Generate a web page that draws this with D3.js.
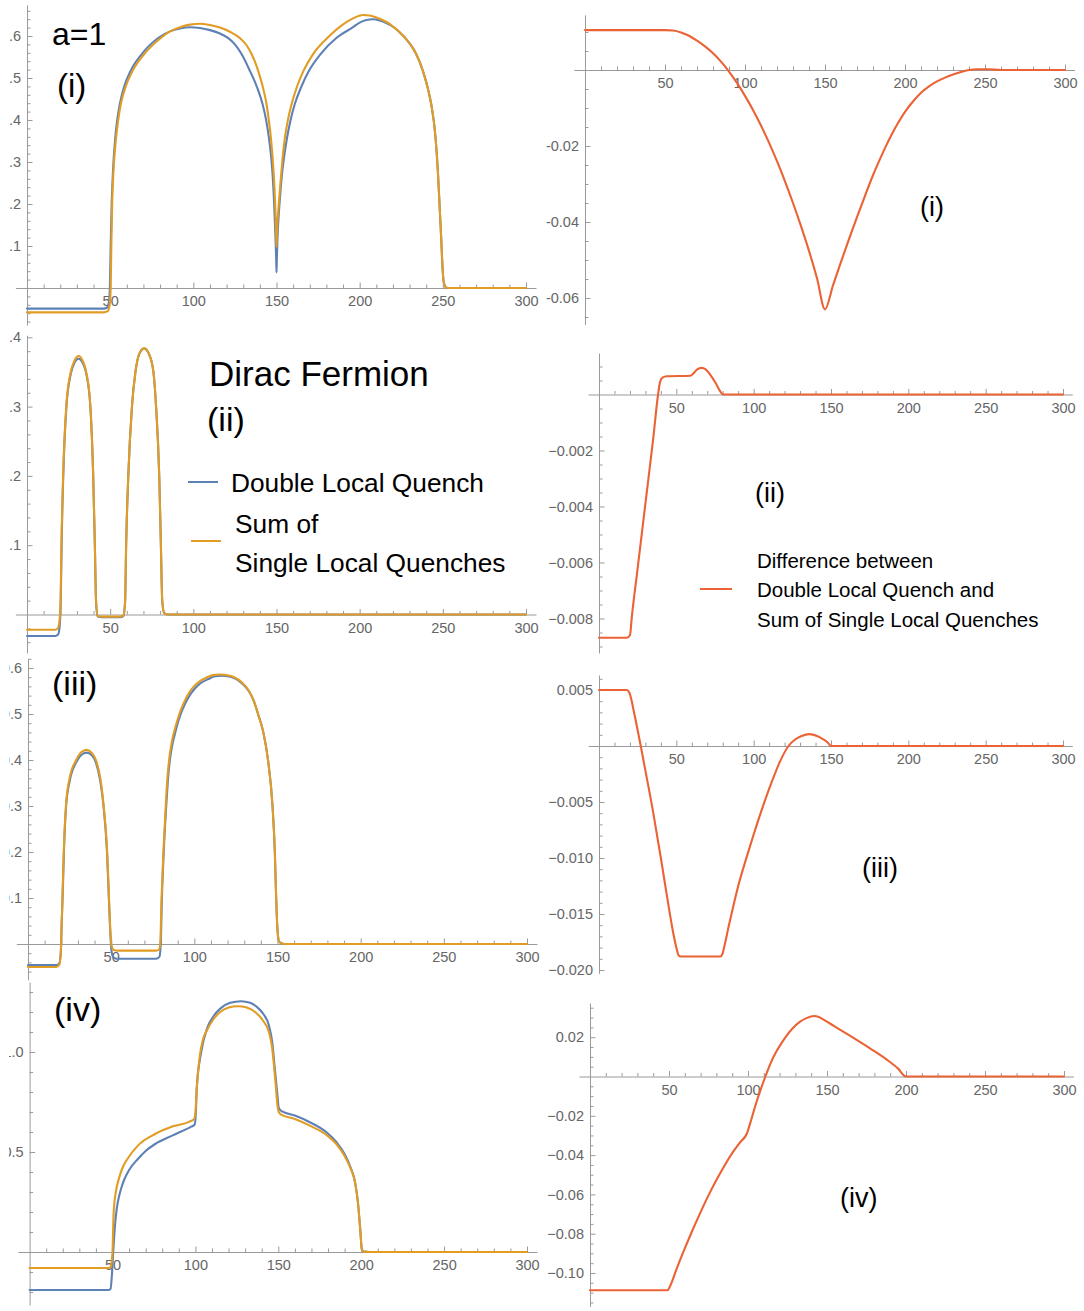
<!DOCTYPE html>
<html><head><meta charset="utf-8">
<script src="https://cdn.jsdelivr.net/npm/d3@7"></script>
<style>
body{margin:0;background:#fff}
svg{display:block}
text{font-family:"Liberation Sans",Arial,Helvetica,sans-serif}
</style>
</head><body>
<svg id="chart" width="1084" height="1311"></svg>
<script>
// ---------------- DATA ----------------
const X_TICKS = [50, 100, 150, 200, 250, 300];

// (i)
const doubleI = [[0,-0.049],[46,-0.049],[48,-0.047],[49.2,-0.035],[49.8,0],[50.3,0.1],[50.9,0.2],[51.7,0.279],[53.1,0.359],[54.2,0.399],[55.8,0.438],[58.3,0.478],[62.3,0.517],[69,0.557],[79.5,0.597],[86,0.611],[92,0.618],[98,0.621],[104,0.619],[110,0.614],[116,0.606],[121,0.595],[125,0.58],[129,0.557],[134,0.517],[138.3,0.478],[141.6,0.438],[143.8,0.399],[145.4,0.359],[146.6,0.319],[147.5,0.279],[148.6,0.2],[149.4,0.12],[149.8,0.07],[150,0.037],[150.2,0.07],[150.6,0.12],[151.8,0.2],[153.5,0.279],[154.8,0.319],[156.4,0.359],[158.4,0.399],[161,0.438],[164.8,0.478],[169.5,0.517],[176.5,0.557],[186.5,0.597],[196,0.621],[200,0.632],[204,0.638],[208,0.64],[212,0.637],[216,0.631],[220,0.622],[224,0.609],[227,0.597],[234,0.557],[238,0.517],[241,0.475],[243,0.438],[245.6,0.359],[247,0.279],[248,0.2],[249,0.12],[249.8,0.05],[250.5,0.015],[251.5,0.003],[253,0],[300,0]];
const sumI = [[0,-0.058],[46,-0.058],[48.5,-0.055],[49.7,-0.04],[50.3,0],[50.7,0.1],[51.2,0.2],[52,0.279],[53.6,0.359],[54.8,0.399],[56.4,0.438],[59.2,0.478],[63.5,0.517],[70.5,0.557],[81,0.597],[86,0.611],[92,0.621],[98,0.627],[104,0.629],[110,0.626],[116,0.62],[122,0.61],[128,0.595],[132,0.578],[135,0.557],[139,0.517],[142,0.475],[144,0.438],[145.4,0.399],[146.6,0.359],[148.2,0.279],[149.2,0.2],[149.7,0.14],[150,0.097],[150.4,0.14],[151.4,0.2],[153,0.279],[153.9,0.319],[155.1,0.359],[156.8,0.399],[159.1,0.438],[162.2,0.478],[166.2,0.517],[172,0.557],[181,0.597],[190.5,0.629],[196,0.642],[202,0.65],[206,0.649],[210,0.644],[218,0.629],[227,0.597],[234,0.557],[238,0.517],[241,0.475],[243,0.438],[245.6,0.359],[247,0.279],[248,0.2],[249,0.12],[249.8,0.05],[250.5,0.015],[251.5,0.003],[253,0],[300,0]];
const diffI = [[0,0.0105],[50,0.0105],[55,0.0104],[60,0.0099],[65,0.009],[70,0.0077],[75,0.0062],[80,0.0044],[85,0.0022],[90,-0.0004],[95,-0.0034],[100,-0.0068],[105,-0.0105],[110,-0.0146],[115,-0.0191],[120,-0.024],[125,-0.0293],[130,-0.035],[135,-0.0411],[140,-0.0476],[145,-0.0548],[150,-0.063],[155,-0.0567],[160,-0.0505],[165,-0.0445],[170,-0.0387],[175,-0.0331],[180,-0.0277],[184,-0.0238],[188,-0.0201],[192,-0.0167],[196,-0.0137],[200,-0.011],[205,-0.0083],[210,-0.006],[215,-0.0043],[220,-0.003],[225,-0.002],[230,-0.0012],[235,-0.0005],[240,0],[245,0.0002],[252,0.0002],[260,0],[300,0]];

// (ii)
const doubleII = [[0,-0.031],[17,-0.031],[18.7,-0.029],[19.7,-0.015],[20.3,0.02],[20.8,0.1],[21.8,0.2],[23.7,0.3],[26.4,0.348],[28.5,0.363],[31,0.369],[33.5,0.363],[35.6,0.348],[38.1,0.3],[39.8,0.2],[40.8,0.1],[41.5,0.02],[42.5,-0.003],[45,-0.004],[56,-0.004],[58,-0.002],[59,0.02],[59.6,0.1],[60.9,0.2],[63.1,0.3],[65.2,0.35],[67.5,0.376],[70.4,0.384],[73.3,0.376],[76,0.35],[77.6,0.3],[79.5,0.2],[80.5,0.1],[81.3,0.02],[82.5,0.002],[85,0],[300,0]];
const sumII = [[0,-0.022],[17,-0.022],[18.5,-0.02],[19.5,-0.01],[20.2,0.02],[20.7,0.1],[21.7,0.2],[23.6,0.3],[26.3,0.35],[28.5,0.366],[31,0.373],[33.5,0.366],[35.6,0.35],[38.1,0.3],[39.8,0.2],[40.8,0.1],[41.5,0.02],[42.5,-0.002],[45,-0.003],[56,-0.003],[58,-0.001],[59,0.02],[59.6,0.1],[60.9,0.2],[63.1,0.3],[65.2,0.35],[67.5,0.376],[70.4,0.384],[73.3,0.376],[76,0.35],[77.6,0.3],[79.5,0.2],[80.5,0.1],[81.3,0.02],[82.5,0.002],[85,0],[300,0]];
const diffII = [[0,-0.00869],[18,-0.00869],[20,-0.0086],[21.3,-0.0079],[25,-0.0062],[30,-0.0039],[35,-0.0016],[38.2,0],[39.5,0.00045],[41,0.0006],[44,0.00065],[59,0.00067],[61,0.00075],[63.5,0.0009],[66.3,0.00095],[69,0.0009],[72,0.0007],[75.5,0.0004],[78.5,0.0001],[80.4,0],[300,0]];

// (iii)
const doubleIII = [[0,-0.046],[17,-0.046],[18.8,-0.042],[19.7,-0.02],[20.3,0.05],[20.8,0.1],[21.6,0.2],[22.9,0.3],[25.1,0.355],[29,0.395],[32,0.411],[35.2,0.416],[38.5,0.41],[40.8,0.395],[43.4,0.355],[45.4,0.3],[47.5,0.2],[48.6,0.1],[49.4,0.03],[50.2,-0.015],[51.3,-0.029],[53,-0.032],[77,-0.032],[79,-0.028],[79.8,0],[80.5,0.1],[81.6,0.2],[83.1,0.3],[84.1,0.355],[85.3,0.4],[86.9,0.435],[88.9,0.465],[91.8,0.5],[94.8,0.525],[98,0.545],[103,0.565],[108.5,0.576],[112.5,0.582],[116.5,0.583],[120,0.582],[124,0.578],[128.5,0.567],[132.9,0.549],[135.8,0.528],[138.3,0.5],[141.5,0.46],[144.3,0.4],[147,0.3],[148.4,0.2],[149.2,0.1],[150,0.03],[151,0.005],[154,0],[300,0]];
const sumIII = [[0,-0.05],[17,-0.05],[18.8,-0.045],[19.7,-0.02],[20.3,0.05],[20.7,0.1],[21.5,0.2],[22.8,0.3],[25,0.36],[29,0.4],[32,0.417],[35.2,0.422],[38.5,0.415],[40.8,0.4],[43.5,0.36],[45.5,0.3],[47.6,0.2],[48.7,0.1],[49.5,0.03],[50.3,-0.005],[51.5,-0.013],[54,-0.0145],[77,-0.0145],[78.8,-0.012],[79.5,0],[80.3,0.1],[81.4,0.2],[82.8,0.3],[83.8,0.36],[85,0.405],[86.5,0.44],[88.5,0.47],[91,0.5],[94,0.527],[97.3,0.549],[102,0.568],[107.7,0.58],[112,0.585],[116,0.586],[120,0.584],[124,0.58],[128.5,0.569],[132.9,0.55],[135.8,0.528],[138.3,0.5],[141.5,0.46],[144.3,0.4],[147,0.3],[148.4,0.2],[149.2,0.1],[150,0.03],[151,0.005],[154,0],[300,0]];
const diffIII = [[0,0.005],[18,0.005],[19.5,0.0048],[21,0.0041],[22.5,0.0031],[24,0.0021],[27,0],[30,-0.0022],[35,-0.0059],[40,-0.01],[45,-0.0143],[48,-0.0167],[50,-0.018],[51.5,-0.0187],[53,-0.0188],[78.5,-0.0188],[80,-0.0185],[81,-0.0179],[82,-0.0173],[84,-0.016],[86,-0.0148],[90,-0.0125],[95.5,-0.0099],[100,-0.0079],[106.7,-0.0051],[112,-0.0031],[117,-0.0014],[122.5,0],[127,0.0006],[131,0.0009],[136,0.00106],[141,0.0009],[145,0.0006],[148,0.0003],[150,0],[300,0]];

// (iv)
const doubleIV = [[0,-0.19],[47.5,-0.19],[48.8,-0.185],[49.6,-0.12],[50.3,-0.02],[50.8,0.05],[51.8,0.16],[52.8,0.23],[54,0.28],[55.5,0.325],[57,0.36],[60,0.41],[65.3,0.465],[70,0.505],[75.7,0.54],[86,0.582],[97.5,0.627],[99.5,0.636],[100.3,0.7],[100.8,0.816],[103.5,1.0],[107,1.117],[111,1.18],[115,1.217],[121,1.246],[127.6,1.254],[133,1.246],[137,1.226],[141,1.19],[144.3,1.134],[146.5,1.04],[147.7,0.933],[149.3,0.8],[150.3,0.72],[151.5,0.708],[152.6,0.702],[160,0.682],[169,0.649],[179.6,0.595],[185,0.55],[190,0.49],[193.5,0.425],[196.3,0.348],[198,0.25],[199.4,0.114],[200.4,0.013],[201.5,0.002],[205,0],[300,0]];
const sumIV = [[0,-0.08],[47,-0.08],[48.7,-0.077],[49.5,-0.05],[50,0],[50.7,0.197],[52,0.3],[53.8,0.365],[56,0.42],[59,0.465],[65.3,0.532],[75.7,0.59],[86,0.627],[96.5,0.652],[99.3,0.666],[100.2,0.72],[100.8,0.816],[102.7,0.983],[104.5,1.06],[107,1.109],[111,1.165],[115,1.2],[120,1.222],[125.6,1.229],[131,1.222],[136,1.2],[140.5,1.16],[144.3,1.1],[146.3,1.02],[147.4,0.933],[148.8,0.8],[149.5,0.732],[150.3,0.7],[151.5,0.688],[160,0.665],[169,0.632],[179.6,0.582],[185,0.54],[190,0.48],[193.5,0.42],[196.3,0.348],[198,0.25],[199.4,0.114],[200.4,0.013],[201.5,0.002],[205,0],[300,0]];
const diffIV = [[0,-0.1088],[49,-0.1088],[50.5,-0.107],[55,-0.0975],[60,-0.0875],[65,-0.078],[70,-0.069],[75,-0.0605],[80,-0.0527],[85,-0.0455],[90,-0.039],[95,-0.0335],[99.3,-0.029],[101.5,-0.0235],[104.4,-0.0155],[108,-0.0067],[111,0],[114,0.0062],[117.6,0.0122],[121,0.0167],[124,0.0203],[128,0.0243],[133,0.0279],[137,0.0297],[141.8,0.0308],[144.5,0.0304],[147.3,0.0292],[155,0.0254],[166,0.02],[177,0.0144],[188,0.0085],[195,0.004],[200,0],[300,0]];

// y tick labels
const yTicksL1 = [0.1,0.2,0.3,0.4,0.5,0.6];
const yTicksR1 = [-0.06,-0.04,-0.02];
const yTicksL2 = [0.1,0.2,0.3,0.4];
const yTicksR2 = [-0.008,-0.006,-0.004,-0.002];
const yTicksL3 = [0.1,0.2,0.3,0.4,0.5,0.6];
const yTicksR3 = [-0.02,-0.015,-0.01,-0.005,0.005];
const yTicksL4 = [0.5,1.0];
const yTicksR4 = [-0.1,-0.08,-0.06,-0.04,-0.02,0.02];

const seriesNames = ["Double Local Quench", "Sum of", "Single Local Quenches"];
const diffLegend = ["Difference between", "Double Local Quench and", "Sum of Single Local Quenches"];

// ---------------- STYLE / LAYOUT ----------------
const BLUE = "#5E81B5", ORANGE = "#E19C24", RED = "#EB6235";
const AXIS = "#9a9a9a", LABEL = "#666";
const hyphenFmt = d3.formatLocale({decimal:".",thousands:",",grouping:[3],currency:["",""],minus:"-"}).format(".2f");

const panels = [
  {px:[27,526],  y0:288,   k:420,   ext:[-0.088,0.674],  minor:0.02,   ticks:yTicksL1, fmt:d3.format(".1f"), series:[[doubleI,BLUE],[sumI,ORANGE]]},
  {px:[585,1065],y0:70,    k:3800,  ext:[-0.067,0.0145], minor:0.005,  ticks:yTicksR1, fmt:hyphenFmt,        series:[[diffI,RED]]},
  {px:[27,526],  y0:614.5, k:693,   ext:[-0.0556,0.403], minor:0.02,   ticks:yTicksL2, fmt:d3.format(".1f"), series:[[doubleII,BLUE],[sumII,ORANGE]]},
  {px:[599,1063],y0:394.5, k:28000, ext:[-0.00923,0.00148],minor:0.0005,ticks:yTicksR2, fmt:d3.format(".3f"), series:[[diffII,RED]]},
  {px:[28,527],  y0:944,   k:460,   ext:[-0.078,0.62],   minor:0.02,   ticks:yTicksL3, fmt:d3.format(".1f"), series:[[doubleIII,BLUE],[sumIII,ORANGE]]},
  {px:[599,1063],y0:746,   k:11200, ext:[-0.0203,0.00634],minor:0.001, ticks:yTicksR3, fmt:d3.format(".3f"), series:[[diffIII,RED]]},
  {px:[29.6,527],y0:1252,  k:200,   ext:[-0.265,1.35],   minor:0.1,    ticks:yTicksL4, fmt:d3.format(".1f"), series:[[doubleIV,BLUE],[sumIV,ORANGE]]},
  {px:[590,1064],y0:1076.5,k:1965,  ext:[-0.117,0.0374], minor:0.005,  ticks:yTicksR4, fmt:d3.format(".2f"), series:[[diffIV,RED]]}
];
const X_EXT = [-7, 306];
const X_MINOR = d3.range(10, 301, 10).filter(v => v % 50 !== 0);

const svg = d3.select("#chart");
svg.append("defs").append("clipPath").attr("id","crop")
  .append("rect").attr("x",9).attr("y",0).attr("width",1075).attr("height",1311);
const root = svg.append("g").attr("clip-path","url(#crop)");

function styleAxis(sel){
  sel.attr("color", AXIS).attr("font-size", 14.5).attr("font-family", '"Liberation Sans",Arial,sans-serif');
  sel.selectAll("text").attr("fill", LABEL);
  sel.selectAll("path.domain").attr("stroke-width", 1);
}

panels.forEach(p => {
  const x = d3.scaleLinear().domain([0,300]).range(p.px);
  const y = d3.scaleLinear().domain([0,1]).range([p.y0, p.y0 - p.k]);
  const xa = d3.scaleLinear().domain(X_EXT).range(X_EXT.map(x));
  const ya = d3.scaleLinear().domain(p.ext).range(p.ext.map(y));
  const g = root.append("g");

  const n0 = Math.ceil(p.ext[0]/p.minor - 1e-9), n1 = Math.floor(p.ext[1]/p.minor + 1e-9);
  const yMinor = d3.range(n0, n1+1).map(i => +(i*p.minor).toFixed(8))
    .filter(v => v !== 0 && !p.ticks.some(t => Math.abs(t - v) < p.minor/10));

  g.append("g").attr("transform", `translate(0,${y(0)})`)
    .call(d3.axisBottom(xa).tickValues(X_MINOR).tickSizeInner(-3.5).tickSizeOuter(0).tickFormat(""))
    .call(styleAxis);
  g.append("g").attr("transform", `translate(0,${y(0)})`)
    .call(d3.axisBottom(xa).tickValues(X_TICKS).tickSizeInner(-5.5).tickSizeOuter(0).tickPadding(8).tickFormat(d3.format("d")))
    .call(s => s.select("path.domain").remove())
    .call(styleAxis);

  g.append("g").attr("transform", `translate(${x(0)},0)`)
    .call(d3.axisLeft(ya).tickValues(yMinor).tickSizeInner(-3.5).tickSizeOuter(0).tickFormat(""))
    .call(styleAxis);
  g.append("g").attr("transform", `translate(${x(0)},0)`)
    .call(d3.axisLeft(ya).tickValues(p.ticks).tickSizeInner(-5.5).tickSizeOuter(0).tickPadding(6).tickFormat(p.fmt))
    .call(s => s.select("path.domain").remove())
    .call(styleAxis);

  const line = d3.line().x(d => x(d[0])).y(d => y(d[1])).curve(d3.curveMonotoneX);
  p.series.forEach(([data, color]) => {
    g.append("path").datum(data).attr("d", line)
      .attr("fill","none").attr("stroke", color).attr("stroke-width", 2.1)
      .attr("stroke-linejoin","round").attr("stroke-linecap","round");
  });
});

// ---------------- annotations ----------------
function label(txt, x, y, size, color){
  root.append("text").attr("x", x).attr("y", y).attr("font-size", size)
    .attr("fill", color || "#000").text(txt);
}
label("a=1", 52, 45, 32);
label("(i)", 57, 97, 33);
label("Dirac Fermion", 209, 386, 35);
label("(ii)", 207, 431, 34);
label("(iii)", 52, 695, 34);
label("(iv)", 54, 1021, 34);

label("(i)", 920, 216, 27);
label("(ii)", 755, 502, 27);
label("(iii)", 862, 877, 27);
label("(iv)", 840, 1207, 27);

// legend left
root.append("line").attr("x1",188).attr("x2",218).attr("y1",482).attr("y2",482).attr("stroke",BLUE).attr("stroke-width",2);
label(seriesNames[0], 231, 492, 26.3);
root.append("line").attr("x1",191).attr("x2",221).attr("y1",541).attr("y2",541).attr("stroke",ORANGE).attr("stroke-width",2);
label(seriesNames[1], 235, 533, 26.3);
label(seriesNames[2], 235, 572, 26.3);

// legend right
root.append("line").attr("x1",700).attr("x2",732).attr("y1",589).attr("y2",589).attr("stroke",RED).attr("stroke-width",2);
label(diffLegend[0], 757, 568, 20.5);
label(diffLegend[1], 757, 597, 20.5);
label(diffLegend[2], 757, 627, 20.5);
</script>
</body></html>
